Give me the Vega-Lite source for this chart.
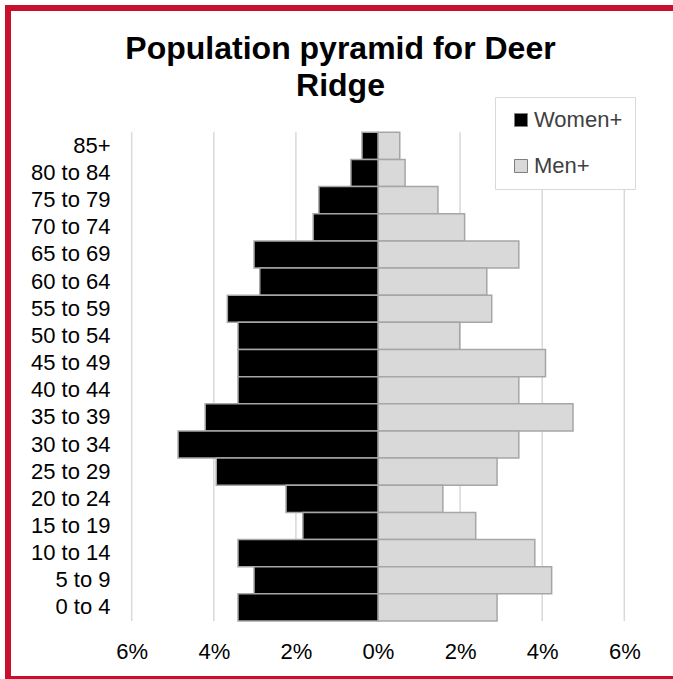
{
  "$schema": "https://vega.github.io/schema/vega-lite/v6.json",
  "width": 665,
  "height": 671,
  "autosize": {"type": "none"},
  "padding": {"left": 8, "top": 8, "right": 0, "bottom": 0},
  "background": "white",
  "title": {
    "text": ["Population pyramid for Deer", "Ridge"],
    "font": "Liberation Sans",
    "fontSize": 32,
    "fontWeight": "bold",
    "color": "#000000",
    "anchor": "middle",
    "frame": "group",
    "offset": -98,
    "lineHeight": 37
  },
  "config": {
    "font": "Liberation Sans",
    "view": {"stroke": null},
    "axisX": {"labelFontSize": 22, "labelColor": "#000000", "domain": false, "ticks": false, "grid": false, "title": null, "offset": -40, "labelPadding": 2},
    "axisY": {"labelFontSize": 22, "labelColor": "#000000", "domain": false, "ticks": false, "grid": false, "title": null, "offset": -104, "labelPadding": 2},
    "legend": {
      "orient": "none",
      "legendX": 487,
      "legendY": 89,
      "padding": 12,
      "strokeColor": "#d9d9d9",
      "fillColor": "#ffffff",
      "symbolType": "square",
      "symbolSize": 169,
      "symbolOffset": 3,
      "labelOffset": 2,
      "labelFontSize": 22,
      "labelColor": "#404040",
      "rowPadding": 24,
      "symbolStrokeColor": "#7f7f7f",
      "symbolStrokeWidth": 1
    }
  },
  "datasets": {
    "pop": [
      {"age": "85+", "women": 0.39, "men": 0.53},
      {"age": "80 to 84", "women": 0.66, "men": 0.66},
      {"age": "75 to 79", "women": 1.44, "men": 1.46},
      {"age": "70 to 74", "women": 1.58, "men": 2.11},
      {"age": "65 to 69", "women": 3.02, "men": 3.43},
      {"age": "60 to 64", "women": 2.88, "men": 2.65},
      {"age": "55 to 59", "women": 3.67, "men": 2.77},
      {"age": "50 to 54", "women": 3.41, "men": 1.99},
      {"age": "45 to 49", "women": 3.41, "men": 4.08},
      {"age": "40 to 44", "women": 3.41, "men": 3.43},
      {"age": "35 to 39", "women": 4.21, "men": 4.75},
      {"age": "30 to 34", "women": 4.87, "men": 3.43},
      {"age": "25 to 29", "women": 3.94, "men": 2.9},
      {"age": "20 to 24", "women": 2.24, "men": 1.58},
      {"age": "15 to 19", "women": 1.83, "men": 2.38},
      {"age": "10 to 14", "women": 3.41, "men": 3.82},
      {"age": "5 to 9", "women": 3.02, "men": 4.23},
      {"age": "0 to 4", "women": 3.41, "men": 2.9}
    ],
    "grid": [{"t": -6}, {"t": -4}, {"t": -2}, {"t": 0}, {"t": 2}, {"t": 4}, {"t": 6}]
  },
  "layer": [
    {
      "layer": [
        {
          "data": {"values": [{"frame": "border"}]},
          "mark": {"type": "rect", "filled": false, "stroke": "#c8102e", "strokeWidth": 6},
          "encoding": {
            "x": {"datum": -9.013, "type": "quantitative", "scale": {"domain": [-9.013, 7.186], "nice": false, "zero": false, "clamp": false},
                  "axis": {"values": [-6, -4, -2, 0, 2, 4, 6], "labelExpr": "abs(datum.value) + '%'"}},
            "x2": {"datum": 7.4}
          }
        },
        {
          "data": {"name": "grid"},
          "mark": {"type": "rule", "color": "#d9d9d9", "strokeWidth": 1.5},
          "encoding": {
            "x": {"field": "t", "type": "quantitative", "scale": {"domain": [-9.013, 7.186], "nice": false, "zero": false, "clamp": false},
                  "axis": {"values": [-6, -4, -2, 0, 2, 4, 6], "labelExpr": "abs(datum.value) + '%'"}},
            "y": {"datum": "85+", "type": "nominal", "bandPosition": 0,
                  "scale": {"domain": ["85+", "80 to 84", "75 to 79", "70 to 74", "65 to 69", "60 to 64", "55 to 59", "50 to 54", "45 to 49", "40 to 44", "35 to 39", "30 to 34", "25 to 29", "20 to 24", "15 to 19", "10 to 14", "5 to 9", "0 to 4"], "paddingInner": 0, "paddingOuter": 0, "range": [124.3, 613]}},
            "y2": {"datum": "0 to 4", "bandPosition": 1}
          }
        },
        {
          "data": {"name": "pop"},
          "mark": {"type": "bar", "stroke": "#a6a6a6", "strokeWidth": 1.5},
          "encoding": {
            "x": {"field": "men", "type": "quantitative", "scale": {"domain": [-9.013, 7.186], "nice": false, "zero": false, "clamp": false},
                  "axis": {"values": [-6, -4, -2, 0, 2, 4, 6], "labelExpr": "abs(datum.value) + '%'"}},
            "x2": {"datum": 0},
            "y": {"field": "age", "type": "nominal", "sort": null},
            "color": {"datum": "Men+", "type": "nominal", "scale": {"domain": ["Women+", "Men+"], "range": ["#000000", "#d9d9d9"]},
                      "legend": {"title": null}}
          }
        }
      ]
    },
    {
      "data": {"name": "pop"},
      "mark": {"type": "bar", "stroke": "#a6a6a6", "strokeWidth": 1.5},
      "encoding": {
        "x": {"field": "women", "type": "quantitative", "scale": {"domain": [-7.186, 9.013], "reverse": true, "nice": false, "zero": false}, "axis": null},
        "x2": {"datum": 0},
        "y": {"field": "age", "type": "nominal", "sort": null},
        "color": {"datum": "Women+", "type": "nominal", "legend": {"title": null}}
      }
    }
  ],
  "resolve": {"scale": {"x": "independent"}, "axis": {"x": "independent"}}
}
